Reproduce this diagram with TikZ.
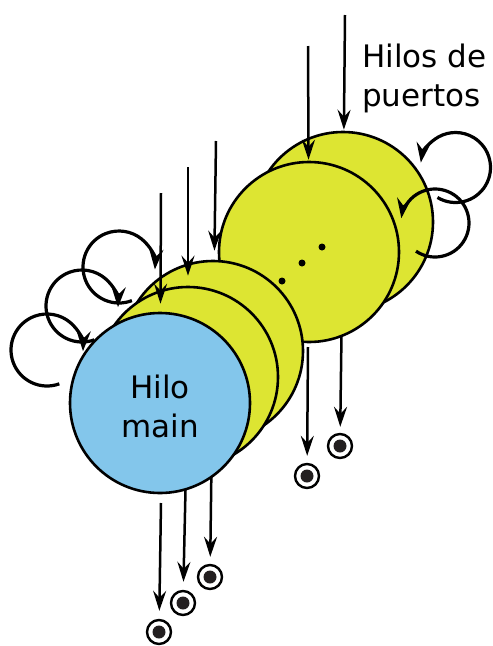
\documentclass[tikz,border=0pt]{standalone}
\usepackage{fontspec}
\setmainfont{DejaVu Sans}
\usetikzlibrary{arrows.meta,calc}
\definecolor{threadyellow}{RGB}{221,229,50}
\definecolor{mainblue}{RGB}{131,198,235}
\definecolor{dotcore}{RGB}{35,31,32}

\begin{document}
\begin{tikzpicture}[x=1pt,y=-1pt,
  thread/.style={circle, draw=black, line width=2.6pt, fill=threadyellow,
    minimum size=180pt, inner sep=0pt},
  mainthread/.style={thread, fill=mainblue},
  arr/.style={line width=2.5pt, -{Stealth[length=20pt,width=13pt,inset=7pt]}},
  selfloop/.style={line width=3.2pt, -{Stealth[length=20pt,width=14pt,inset=7pt]}},
  sink/.style={circle, draw=black, line width=2.4pt, fill=white,
    minimum size=24pt, inner sep=0pt,
    path picture={\fill[dotcore] (path picture bounding box.center) circle[radius=6.5pt];}},
  lbl/.style={font=\fontsize{31}{38.5}\selectfont, inner sep=0pt},
  dot/.style={fill=black}
]
\useasboundingbox (0,0) rectangle (493,646);

% end points of the arrows
\node[sink] (o1) at (159,632) {};
\node[sink] (o2) at (183,603) {};
\node[sink] (o3) at (210,577) {};
\node[sink] (o4) at (307,476) {};
\node[sink] (o5) at (340,446) {};

% thread centres (arrows leaving hidden threads start behind the discs)
\coordinate (pc5) at (343,222);
\coordinate (pc3) at (213,351);
\coordinate (pc2) at (188,377);
\draw[arr, shorten >=6pt] (pc5) -- (o5);
\draw[arr, shorten >=7pt] (pc3) -- (o3);
\draw[arr, shorten >=8pt] (pc2) -- (o2);

% port threads and the main thread
\node[thread] (back) at (pc5) {};
\node[thread] (front) at (309,252) {};
\node[thread] (c3) at (pc3) {};
\node[thread] (c2) at (pc2) {};
\node[mainthread] (main) at (160,403) {};
\node[lbl, align=center, anchor=base] (mainlabel) at (160,437) {Hilo\\main};

% ellipsis between the two groups
\fill[dot] (322,247) circle[radius=3.5pt];
\fill[dot] (302,263) circle[radius=3.5pt];
\fill[dot] (282,281) circle[radius=3.5pt];

% incoming arrows
\coordinate (t5) at (345,15);
\coordinate (t4) at (308,46);
\coordinate (t3) at (216,141);
\coordinate (t2) at (188,167);
\coordinate (t1) at (161,193);
\draw[arr, shorten >=1pt] (t5) -- (back);
\draw[arr, shorten >=1pt] (t4) -- (front);
\draw[arr, shorten >=9pt] (t3) -- (c3);
\draw[arr, shorten >=10pt] (t2) -- (c2);
\draw[arr, shorten >=8pt] (t1) -- (main);

% outgoing arrows from the visible threads
\coordinate (b1) at (161,503);
\coordinate (b4) at (308,347);
\draw[arr, shorten >=8pt] (b1) -- (o1);
\draw[arr, shorten >=7pt] (b4) -- (o4);

% self loops
\coordinate (L1) at (119,267);
\coordinate (L2) at (82,306);
\coordinate (L3) at (47,350);
\coordinate (R1) at (455.5,167.5);
\coordinate (R2) at (435,223);
\draw[selfloop] ($(L1)+(69:36)$) arc[start angle=69, end angle=364, radius=36];
\draw[selfloop] ($(L2)+(70:36)$) arc[start angle=70, end angle=362, radius=36];
\draw[selfloop] ($(L3)+(70:36)$) arc[start angle=70, end angle=362, radius=36];
\draw[selfloop] ($(R1)+(121:35)$) arc[start angle=121, end angle=-172, radius=35];
\draw[selfloop] ($(R2)+(124:34)$) arc[start angle=124, end angle=-172, radius=34];

\node[lbl, align=left, anchor=base west] (ports) at (362,106) {Hilos de\\puertos};
\end{tikzpicture}
\end{document}
